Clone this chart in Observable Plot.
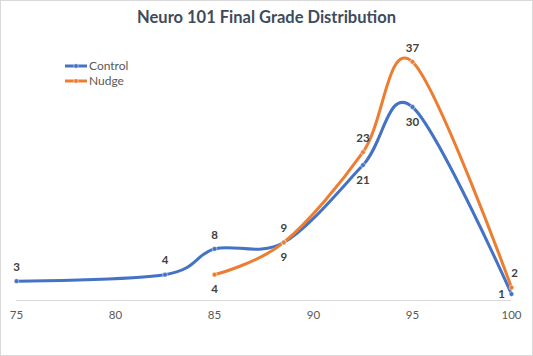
<!DOCTYPE html>
<html>
<head>
<meta charset="utf-8">
<script src="https://cdn.jsdelivr.net/npm/d3@7"></script>
<script src="https://cdn.jsdelivr.net/npm/@observablehq/plot@0.6"></script>
<style>
  html, body { margin: 0; padding: 0; background: #fff; }
  #wrap { position: relative; width: 533px; height: 356px; overflow: hidden; font-family: Lato, "Open Sans", sans-serif; }
  #frame { position: absolute; left: 0; top: 0; width: 533px; height: 356px; box-sizing: border-box; border: 1px solid #d9d9d9; pointer-events: none; }
  #title { position: absolute; left: 0; top: 7px; width: 533px; text-align: center; font-weight: 700; font-size: 16.5px; color: #3e4b5c; }
  #chart { position: absolute; left: 0; top: 36px; }
  #legend { position: absolute; left: 64px; top: 58px; font-size: 12px; color: #595959; line-height: 15px; }
  #legend div { display: flex; align-items: center; height: 15px; }
  #legend svg { margin-right: 1px; }
</style>
</head>
<body>
<div id="wrap">
  <div id="title"></div>
  <div id="legend"></div>
  <div id="chart"></div>
  <div id="frame"></div>
</div>
<script>
const chartTitle = "Neuro 101 Final Grade Distribution";
const seriesNames = ["Control", "Nudge"];
const controlGrades = [75, 82.5, 85, 88.5, 92.5, 95, 100];
const controlCounts = [3, 4, 8, 9, 21, 30, 1];
const nudgeGrades = [85, 88.5, 92.5, 95, 100];
const nudgeCounts = [4, 9, 23, 37, 2];
const xTicks = [75, 80, 85, 90, 95, 100];

// label placement (style, not data)
const controlLabelPlace = ["above", "above", "above", "above", "below", "below", "left"];
const nudgeLabelPlace = ["below", "below", "above", "above", "aboveRight"];

const colors = { Control: "#4472c4", Nudge: "#ed7d31" };

const rows = [
  ...controlGrades.map((g, i) => ({ series: "Control", grade: g, count: controlCounts[i], place: controlLabelPlace[i] })),
  ...nudgeGrades.map((g, i) => ({ series: "Nudge", grade: g, count: nudgeCounts[i], place: nudgeLabelPlace[i] }))
];

document.getElementById("title").textContent = chartTitle;

const legend = document.getElementById("legend");
for (const name of seriesNames) {
  const row = document.createElement("div");
  const c = colors[name];
  row.innerHTML = `<svg width="24" height="8"><line x1="1" x2="23" y1="4" y2="4" stroke="${c}" stroke-width="3"/><circle cx="12" cy="4" r="2.3" fill="${c}" stroke="#fff" stroke-opacity="0.6" stroke-width="0.8"/></svg><span>${name}</span>`;
  legend.appendChild(row);
}

const labelFont = { fontSize: 11.5, fontWeight: "bold", fill: "#404040", fontFamily: "Lato, 'Open Sans', sans-serif" };

const plot = Plot.plot({
  width: 533,
  height: 320,
  marginLeft: 16,
  marginRight: 22,
  marginTop: 6,
  marginBottom: 56,
  style: { fontFamily: "Lato, 'Open Sans', sans-serif", background: "transparent" },
  x: { domain: [75, 100], ticks: xTicks, tickSize: 0, label: null, tickFormat: d => String(d) },
  y: { domain: [0, 40], axis: null },
  color: { domain: seriesNames, range: seriesNames.map(s => colors[s]) },
  marks: [
    Plot.ruleY([0], { stroke: "#d9d9d9", strokeWidth: 1 }),
    Plot.axisX({ ticks: xTicks, tickSize: 0, tickPadding: 10, label: null, fontSize: 11.5, fill: "#595959", tickFormat: d => String(d) }),
    Plot.line(rows, { x: "grade", y: "count", z: "series", stroke: d => colors[d.series], strokeWidth: 3, curve: "cardinal" }),
    Plot.dot(rows, { x: "grade", y: "count", r: 2.4, fill: d => colors[d.series], stroke: "#fff", strokeOpacity: 0.6, strokeWidth: 0.8 }),
    Plot.text(rows.filter(d => d.place === "above"), { x: "grade", y: "count", text: d => String(d.count), dy: -14, ...labelFont }),
    Plot.text(rows.filter(d => d.place === "below"), { x: "grade", y: "count", text: d => String(d.count), dy: 15, ...labelFont }),
    Plot.text(rows.filter(d => d.place === "left"), { x: "grade", y: "count", text: d => String(d.count), dx: -10, dy: 0, ...labelFont }),
    Plot.text(rows.filter(d => d.place === "aboveRight"), { x: "grade", y: "count", text: d => String(d.count), dx: 3, dy: -14, ...labelFont })
  ]
});
document.getElementById("chart").appendChild(plot);
</script>
</body>
</html>
